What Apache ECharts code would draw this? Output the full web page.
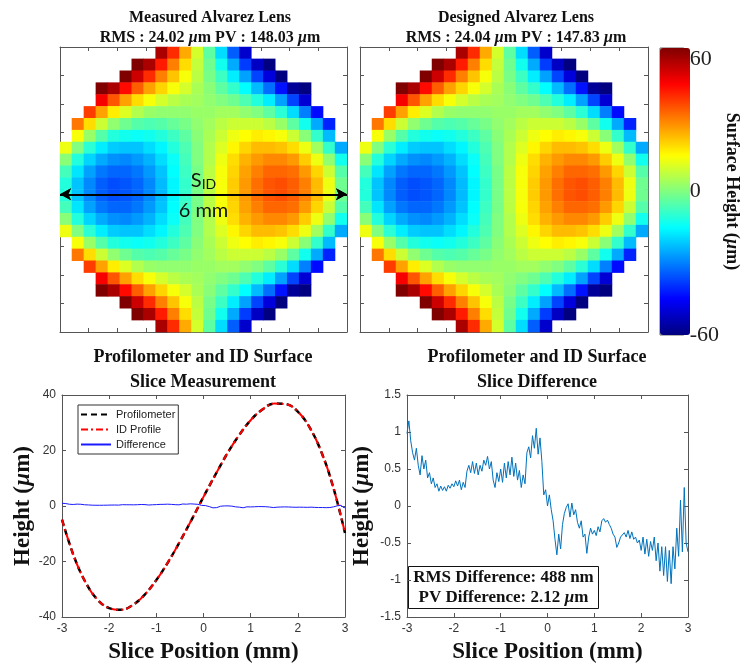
<!DOCTYPE html>
<html>
<head>
<meta charset="utf-8">
<title>Alvarez lens surface and slice</title>
<script src="https://cdn.jsdelivr.net/npm/echarts@6.0.0/dist/echarts.min.js"></script>
<style>
  html, body { margin: 0; padding: 0; background: #fff; }
  #chart { width: 742px; height: 671px; }
</style>
</head>
<body>
<div id="chart"></div>
<script>
// map sample centres (mm), 0.25 mm pitch over the 6 mm aperture
const mapX = [-2.875, -2.625, -2.375, -2.125, -1.875, -1.625, -1.375, -1.125, -0.875, -0.625, -0.375, -0.125,
              0.125, 0.375, 0.625, 0.875, 1.125, 1.375, 1.625, 1.875, 2.125, 2.375, 2.625, 2.875];
const mapY = [2.875, 2.625, 2.375, 2.125, 1.875, 1.625, 1.375, 1.125, 0.875, 0.625, 0.375, 0.125,
              -0.125, -0.375, -0.625, -0.875, -1.125, -1.375, -1.625, -1.875, -2.125, -2.375, -2.625, -2.875];

// surface height (um), top row first; null = outside the aperture
const N = null;
const surfaceRows = [
  [N, N, N, N, N, N, N, N, 55, 40, 25, 10, -4, -19, -34, -51, N, N, N, N, N, N, N, N],
  [N, N, N, N, N, N, 69, 55, 42, 30, 19, 8, -2, -13, -25, -38, -52, -67, N, N, N, N, N, N],
  [N, N, N, N, N, 63, 51, 40, 30, 22, 14, 7, -1, -8, -17, -26, -37, -49, -63, N, N, N, N, N],
  [N, N, N, 69, 55, 44, 34, 26, 20, 14, 10, 5, 1, -4, -9, -15, -23, -32, -43, -57, -73, N, N, N],
  [N, N, N, 46, 35, 26, 19, 14, 10, 7, 5, 4, 2, 0, -2, -6, -11, -17, -26, -37, -50, N, N, N],
  [N, N, 38, 26, 17, 11, 6, 3, 2, 2, 2, 3, 3, 4, 4, 2, 0, -4, -10, -19, -30, -44, N, N],
  [N, 31, 19, 9, 2, -2, -5, -6, -5, -3, -1, 2, 4, 7, 9, 9, 9, 7, 3, -4, -13, -25, -41, N],
  [N, 14, 3, -5, -11, -13, -14, -13, -11, -8, -4, 1, 5, 9, 13, 15, 17, 16, 14, 9, 1, -9, -23, N],
  [13, 0, -10, -17, -21, -22, -22, -19, -16, -11, -6, 0, 6, 11, 16, 20, 23, 23, 22, 19, 13, 4, -9, -25],
  [1, -11, -20, -25, -28, -29, -27, -24, -19, -14, -7, 0, 6, 13, 19, 24, 27, 29, 29, 27, 21, 13, 2, -13],
  [-7, -18, -26, -31, -33, -33, -31, -27, -22, -15, -8, -1, 7, 14, 20, 26, 30, 33, 33, 32, 27, 20, 9, -5],
  [-11, -22, -29, -34, -36, -35, -33, -29, -23, -16, -9, -1, 7, 14, 21, 27, 32, 35, 36, 34, 30, 23, 13, -2],
  [-11, -22, -29, -34, -36, -35, -33, -29, -23, -16, -9, -1, 7, 14, 21, 27, 32, 35, 36, 34, 30, 23, 13, -2],
  [-7, -18, -26, -31, -33, -33, -31, -27, -22, -15, -8, -1, 7, 14, 20, 26, 30, 33, 33, 32, 27, 20, 9, -5],
  [1, -11, -20, -25, -28, -29, -27, -24, -19, -14, -7, 0, 6, 13, 19, 24, 27, 29, 29, 27, 21, 13, 2, -13],
  [13, 0, -10, -17, -21, -22, -22, -19, -16, -11, -6, 0, 6, 11, 16, 20, 23, 23, 22, 19, 13, 4, -9, -25],
  [N, 14, 3, -5, -11, -13, -14, -13, -11, -8, -4, 1, 5, 9, 13, 15, 17, 16, 14, 9, 1, -9, -23, N],
  [N, 31, 19, 9, 2, -2, -5, -6, -5, -3, -1, 2, 4, 7, 9, 9, 9, 7, 3, -4, -13, -25, -41, N],
  [N, N, 38, 26, 17, 11, 6, 3, 2, 2, 2, 3, 3, 4, 4, 2, 0, -4, -10, -19, -30, -44, N, N],
  [N, N, N, 46, 35, 26, 19, 14, 10, 7, 5, 4, 2, 0, -2, -6, -11, -17, -26, -37, -50, N, N, N],
  [N, N, N, 69, 55, 44, 34, 26, 20, 14, 10, 5, 1, -4, -9, -15, -23, -32, -43, -57, -73, N, N, N],
  [N, N, N, N, N, 63, 51, 40, 30, 22, 14, 7, -1, -8, -17, -26, -37, -49, -63, N, N, N, N, N],
  [N, N, N, N, N, N, 69, 55, 42, 30, 19, 8, -2, -13, -25, -38, -52, -67, N, N, N, N, N, N],
  [N, N, N, N, N, N, N, N, 55, 40, 25, 10, -4, -19, -34, -51, N, N, N, N, N, N, N, N]
];
// the designed map reads the same as the measured one at this pitch
const designedRows = surfaceRows;

// slice annotation on the measured map (mm)
const sliceStart = -3;
const sliceEnd = 3;
const sliceY = -0.1;

// slice profile, 0.25 mm steps
const slicePos = [-3, -2.75, -2.5, -2.25, -2, -1.75, -1.5, -1.25, -1, -0.75, -0.5, -0.25, 0,
                  0.25, 0.5, 0.75, 1, 1.25, 1.5, 1.75, 2, 2.25, 2.5, 2.75, 3];
const profilometer = [-4.9, -18.0, -27.5, -33.7, -36.8, -37.4, -35.7, -32.0, -26.7, -20.2, -12.8, -4.9, 3.3,
                      11.2, 18.8, 25.4, 30.9, 34.8, 36.9, 36.7, 34.0, 28.3, 19.4, 6.8, -9.7];
const idProfile = [-4.9, -18.0, -27.5, -33.7, -36.8, -37.4, -35.7, -32.0, -26.7, -20.2, -12.8, -4.9, 3.3,
                   11.2, 18.8, 25.4, 30.9, 34.8, 36.9, 36.7, 34.0, 28.3, 19.4, 6.8, -9.7];

// slice difference (um), sampled every 0.04 mm from -3 mm
const diffStart = -3;
const diffStep = 0.04;
const diffValues = [
  0.98, 1.15, 0.88, 0.72, 0.62, 0.78, 0.55, 0.42, 0.68, 0.5,
  0.62, 0.38, 0.45, 0.3, 0.38, 0.25, 0.3, 0.2, 0.27, 0.21,
  0.26, 0.2, 0.28, 0.24, 0.3, 0.26, 0.34, 0.27, 0.35, 0.22,
  0.32, 0.25, 0.47, 0.55, 0.45, 0.6, 0.44, 0.58, 0.42, 0.55,
  0.47, 0.62, 0.55, 0.67, 0.5, 0.6, 0.35, 0.25, 0.45, 0.33,
  0.5, 0.32, 0.58, 0.38, 0.6, 0.42, 0.66, 0.4, 0.58, 0.35,
  0.48, 0.25, 0.42, 0.3, 0.72, 0.8, 0.65, 0.95, 0.78, 1.05,
  0.7, 0.92, 0.6, 0.15, 0.22, 0.0, 0.15, -0.05, -0.2, -0.45,
  -0.66, -0.38, -0.58, -0.25, -0.1, -0.02, 0.03, -0.15, 0.04, -0.12,
  -0.05, -0.22, -0.3, -0.2, -0.42, -0.38, -0.64, -0.42, -0.3, -0.38,
  -0.33, -0.4, -0.28, -0.35, -0.2, -0.17, -0.22, -0.19, -0.25, -0.3,
  -0.38, -0.42, -0.56, -0.5, -0.42, -0.4, -0.36, -0.42, -0.33, -0.44,
  -0.35, -0.45, -0.42, -0.5, -0.46, -0.6, -0.42, -0.65, -0.45, -0.68,
  -0.48, -0.6, -0.42, -0.74, -0.5, -0.88, -0.55, -0.94, -0.55, -1.02,
  -0.6, -1.05, -0.55, -0.85, -0.3, -0.68, 0.08, -0.62, 0.25, -0.5, -0.62
];

// jet colour map, -60 .. 60 um
const jet = ['#000080', '#0000ff', '#0080ff', '#00ffff', '#80ff80', '#ffff00', '#ff8000', '#ff0000', '#800000'];

const serif = "'Liberation Serif', 'Times New Roman', serif";
const sans = "'Liberation Sans', Arial, sans-serif";
const axisGray = '#555';

function toCells(rows) {
  const cells = [];
  rows.forEach((row, r) => {
    row.forEach((v, c) => {
      if (v !== null) cells.push([c, r, v]);
    });
  });
  return cells;
}

function pairs(xs, ys) {
  return xs.map((x, i) => [x, ys[i]]);
}

const diffData = diffValues.map((v, i) => [+(diffStart + i * diffStep).toFixed(2), v]);

// value axis drawn as one side of a MATLAB style box
function boxAxis(opts) {
  return Object.assign({
    type: 'value',
    axisLine: { show: true, onZero: false, lineStyle: { color: axisGray, width: 1 } },
    axisTick: { show: true, inside: true, length: 4, lineStyle: { color: axisGray } },
    splitLine: { show: false },
    axisLabel: { show: false }
  }, opts);
}

const tickLabel = { show: true, fontFamily: sans, fontSize: 12, color: '#333', margin: 6 };
const muRich = {
  i: { fontFamily: serif, fontSize: 23, fontWeight: 'bold', fontStyle: 'italic', color: '#111' }
};
const axisTitle = { fontFamily: serif, fontSize: 23, fontWeight: 'bold', color: '#111', rich: muRich };
const boxText = { fontFamily: serif, fontSize: 17, fontWeight: 'bold', fill: '#111' };

const chart = echarts.init(document.getElementById('chart'));

const option = {
  animation: false,
  backgroundColor: '#fff',
  title: [
    {
      text: 'Measured Alvarez Lens\nRMS : 24.02 {i|µ}m PV : 148.03 {i|µ}m',
      left: 210, top: 8, textAlign: 'center', padding: 0,
      textStyle: {
        fontFamily: serif, fontSize: 16, fontWeight: 'bold', color: '#111', lineHeight: 20,
        rich: { i: { fontFamily: serif, fontSize: 16, fontWeight: 'bold', fontStyle: 'italic', color: '#111', lineHeight: 20 } }
      }
    },
    {
      text: 'Designed Alvarez Lens\nRMS : 24.04 {i|µ}m PV : 147.83 {i|µ}m',
      left: 516, top: 8, textAlign: 'center', padding: 0,
      textStyle: {
        fontFamily: serif, fontSize: 16, fontWeight: 'bold', color: '#111', lineHeight: 20,
        rich: { i: { fontFamily: serif, fontSize: 16, fontWeight: 'bold', fontStyle: 'italic', color: '#111', lineHeight: 20 } }
      }
    },
    {
      text: 'Profilometer and ID Surface\nSlice Measurement',
      left: 203, top: 345, textAlign: 'center', padding: 0,
      textStyle: { fontFamily: serif, fontSize: 18, fontWeight: 'bold', color: '#111', lineHeight: 25 }
    },
    {
      text: 'Profilometer and ID Surface\nSlice Difference',
      left: 537, top: 345, textAlign: 'center', padding: 0,
      textStyle: { fontFamily: serif, fontSize: 18, fontWeight: 'bold', color: '#111', lineHeight: 25 }
    }
  ],
  grid: [
    { left: 60, top: 47, width: 287, height: 285 },
    { left: 360, top: 47, width: 288, height: 285 },
    { left: 660, top: 48, width: 30, height: 287, show: true, borderColor: '#666', borderWidth: 1, backgroundColor: 'transparent' },
    { left: 62, top: 395, width: 283, height: 222 },
    { left: 407, top: 395, width: 281, height: 222 }
  ],
  xAxis: [
    { type: 'category', gridIndex: 0, data: mapX, show: false },
    { type: 'category', gridIndex: 1, data: mapX, show: false },
    boxAxis({ gridIndex: 0, min: -3, max: 3, interval: 0.6, position: 'bottom' }),
    boxAxis({ gridIndex: 0, min: -3, max: 3, interval: 0.6, position: 'top' }),
    boxAxis({ gridIndex: 1, min: -3, max: 3, interval: 0.6, position: 'bottom' }),
    boxAxis({ gridIndex: 1, min: -3, max: 3, interval: 0.6, position: 'top' }),
    { type: 'value', gridIndex: 2, min: 0, max: 1, show: false },
    boxAxis({
      gridIndex: 3, min: -3, max: 3, interval: 1, position: 'bottom',
      axisLabel: tickLabel,
      name: 'Slice Position (mm)', nameLocation: 'middle', nameGap: 24, nameTextStyle: axisTitle
    }),
    boxAxis({ gridIndex: 3, min: -3, max: 3, interval: 1, position: 'top' }),
    boxAxis({
      gridIndex: 4, min: -3, max: 3, interval: 1, position: 'bottom',
      axisLabel: tickLabel,
      name: 'Slice Position (mm)', nameLocation: 'middle', nameGap: 24, nameTextStyle: axisTitle
    }),
    boxAxis({ gridIndex: 4, min: -3, max: 3, interval: 1, position: 'top' })
  ],
  yAxis: [
    { type: 'category', gridIndex: 0, data: mapY, inverse: true, show: false },
    { type: 'category', gridIndex: 1, data: mapY, inverse: true, show: false },
    boxAxis({ gridIndex: 0, min: -3, max: 3, interval: 0.6, position: 'left' }),
    boxAxis({ gridIndex: 0, min: -3, max: 3, interval: 0.6, position: 'right' }),
    boxAxis({ gridIndex: 1, min: -3, max: 3, interval: 0.6, position: 'left' }),
    boxAxis({ gridIndex: 1, min: -3, max: 3, interval: 0.6, position: 'right' }),
    {
      type: 'value', gridIndex: 2, min: -60, max: 60, interval: 60, position: 'right',
      axisLine: { show: false }, axisTick: { show: false }, splitLine: { show: false },
      axisLabel: { fontFamily: serif, fontSize: 22, color: '#222', margin: 6, verticalAlignMaxLabel: 'top' },
      name: 'Surface Height ({i|µ}m)', nameLocation: 'middle', nameRotate: -90, nameGap: 34,
      nameTextStyle: {
        fontFamily: serif, fontSize: 18, fontWeight: 'bold', color: '#111', padding: [0, 0, 0, 0],
        rich: { i: { fontFamily: serif, fontSize: 18, fontWeight: 'bold', fontStyle: 'italic', color: '#111' } }
      }
    },
    boxAxis({
      gridIndex: 3, min: -40, max: 40, interval: 20, position: 'left',
      axisLabel: tickLabel,
      name: 'Height ({i|µ}m)', nameLocation: 'middle', nameGap: 26, nameTextStyle: axisTitle
    }),
    boxAxis({ gridIndex: 3, min: -40, max: 40, interval: 20, position: 'right' }),
    boxAxis({
      gridIndex: 4, min: -1.5, max: 1.5, interval: 0.5, position: 'left',
      axisLabel: tickLabel,
      name: 'Height ({i|µ}m)', nameLocation: 'middle', nameGap: 33, nameTextStyle: axisTitle
    }),
    boxAxis({ gridIndex: 4, min: -1.5, max: 1.5, interval: 0.5, position: 'right' })
  ],
  visualMap: {
    type: 'continuous',
    seriesIndex: [0, 1],
    min: -60, max: 60,
    calculable: false,
    hoverLink: false,
    text: null,
    showLabel: false,
    left: 660, top: 48,
    itemWidth: 30, itemHeight: 287,
    padding: 0,
    inRange: { color: jet }
  },
  legend: {
    data: ['Profilometer', 'ID Profile', 'Difference'],
    orient: 'vertical',
    left: 78, top: 405,
    itemWidth: 30, itemHeight: 10, itemGap: 4,
    padding: [4, 3, 4, 2],
    borderColor: '#333', borderWidth: 1, backgroundColor: '#fff',
    itemStyle: { opacity: 0 },
    textStyle: { fontFamily: sans, fontSize: 11, color: '#222' }
  },
  series: [
    {
      name: 'Measured', type: 'heatmap', xAxisIndex: 0, yAxisIndex: 0,
      data: toCells(surfaceRows), emphasis: { disabled: true }, silent: true
    },
    {
      name: 'Designed', type: 'heatmap', xAxisIndex: 1, yAxisIndex: 1,
      data: toCells(designedRows), emphasis: { disabled: true }, silent: true
    },
    {
      name: 'Slice', type: 'line', xAxisIndex: 2, yAxisIndex: 2, data: [], silent: true,
      markLine: {
        silent: true, animation: false,
        symbol: ['arrow', 'arrow'], symbolSize: [9, 11],
        lineStyle: { color: '#000', width: 2, type: 'solid' },
        data: [
          [
            {
              coord: [sliceStart, sliceY],
              label: {
                show: true, position: 'insideMiddleTop', distance: 3,
                formatter: 'S{sub|ID}',
                fontFamily: 'Lato, sans-serif', fontSize: 20, color: '#111', lineHeight: 22,
                rich: { sub: { fontFamily: 'Lato, sans-serif', fontSize: 14, color: '#111', lineHeight: 22, verticalAlign: 'bottom' } }
              }
            },
            { coord: [sliceEnd, sliceY] }
          ],
          [
            {
              coord: [sliceStart, sliceY],
              label: {
                show: true, position: 'insideMiddleBottom', distance: 6,
                formatter: '6 mm',
                fontFamily: 'Lato, sans-serif', fontSize: 20, color: '#111'
              }
            },
            { coord: [sliceEnd, sliceY] }
          ]
        ]
      }
    },
    {
      name: 'Profilometer', type: 'line', xAxisIndex: 7, yAxisIndex: 7,
      data: pairs(slicePos, profilometer), smooth: 0.4, showSymbol: false, symbol: 'none',
      itemStyle: { color: '#000' },
      lineStyle: { color: '#000', width: 2.5, type: [6, 4] }, z: 3
    },
    {
      name: 'ID Profile', type: 'line', xAxisIndex: 7, yAxisIndex: 7,
      data: pairs(slicePos, idProfile), smooth: 0.4, showSymbol: false, symbol: 'none',
      itemStyle: { color: '#ff0000' },
      lineStyle: { color: '#ff0000', width: 2, type: [7, 3, 2, 3] }, z: 4
    },
    {
      name: 'Difference', type: 'line', xAxisIndex: 7, yAxisIndex: 7,
      data: diffData, showSymbol: false, symbol: 'none',
      itemStyle: { color: '#1a1aff' },
      lineStyle: { color: '#1a1aff', width: 1 }, z: 5
    },
    {
      name: 'Slice Difference', type: 'line', xAxisIndex: 9, yAxisIndex: 9,
      data: diffData, showSymbol: false, symbol: 'none',
      itemStyle: { color: '#0072bd' },
      lineStyle: { color: '#0072bd', width: 1 }
    }
  ],
  graphic: [
    {
      type: 'group', left: 408, top: 566, z: 100,
      children: [
        { type: 'rect', shape: { x: 0, y: 0, width: 190, height: 42 }, style: { fill: '#fff', stroke: '#111', lineWidth: 1 } },
        {
          type: 'text', x: 95, y: 11,
          style: Object.assign({ text: 'RMS Difference: 488 nm', align: 'center', verticalAlign: 'middle' }, boxText)
        },
        {
          type: 'text', x: 95, y: 31,
          style: Object.assign({
            text: 'PV Difference: 2.12 {i|µ}m', align: 'center', verticalAlign: 'middle',
            rich: { i: Object.assign({ fontStyle: 'italic' }, boxText) }
          }, boxText)
        }
      ]
    }
  ]
};

chart.setOption(option);
</script>
</body>
</html>
